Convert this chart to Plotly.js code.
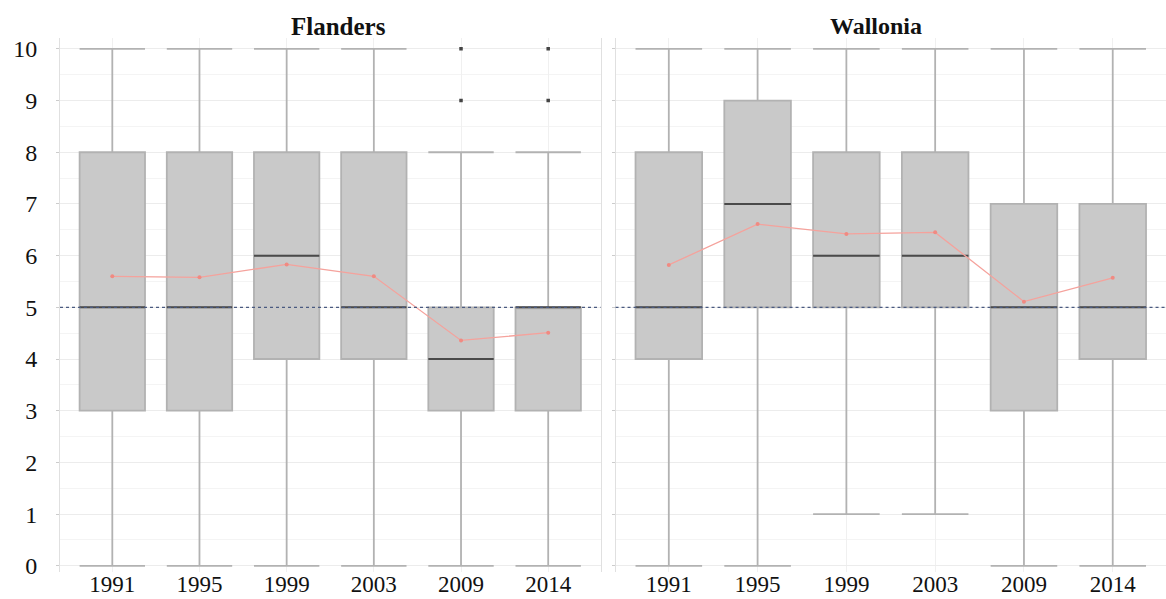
<!DOCTYPE html>
<html>
<head>
<meta charset="utf-8">
<script src="https://cdn.plot.ly/plotly-3.0.1.min.js"></script>
<style>html,body{margin:0;padding:0;background:#fff;}#chart{width:1166px;height:599px;}</style>
</head>
<body>
<div id="chart"></div>
<script>
const years = ['1991', '1995', '1999', '2003', '2009', '2014'];
const regions = ['Flanders', 'Wallonia'];

// Flanders
const flMin    = [0, 0, 0, 0, 0, 0];
const flQ1     = [3, 3, 4, 4, 3, 3];
const flMedian = [5, 5, 6, 5, 4, 5];
const flQ3     = [8, 8, 8, 8, 5, 5];
const flMax    = [10, 10, 10, 10, 8, 8];
const flMean   = [5.6, 5.58, 5.83, 5.6, 4.36, 4.51];
const flOutlierYears = ['2009', '2009', '2014', '2014'];
const flOutlierVals  = [9, 10, 9, 10];

// Wallonia
const waMin    = [0, 0, 1, 1, 0, 0];
const waQ1     = [4, 5, 5, 5, 3, 4];
const waMedian = [5, 7, 6, 6, 5, 5];
const waQ3     = [8, 9, 8, 8, 7, 7];
const waMax    = [10, 10, 10, 10, 10, 10];
const waMean   = [5.82, 6.61, 6.42, 6.45, 5.11, 5.57];

const refLine = 5;

const FONT = 'Liberation Serif, Times New Roman, serif';

function panel(xa, ya, mins, q1, med, q3, maxs, means) {
  return [
    {
      type: 'box', x: years, q1: q1, median: med, q3: q3,
      lowerfence: mins, upperfence: maxs,
      xaxis: xa, yaxis: ya,
      fillcolor: '#c9c9c9',
      line: {color: '#b2b2b2', width: 1.8},
      whiskerwidth: 1, width: 0.75,
      boxpoints: false, showlegend: false, hoverinfo: 'skip'
    },
    {
      type: 'box', x: years, q1: med, median: med, q3: med,
      lowerfence: med, upperfence: med,
      xaxis: xa, yaxis: ya,
      fillcolor: 'rgba(0,0,0,0)',
      line: {color: '#4a4a4a', width: 2},
      whiskerwidth: 0, width: 0.75,
      boxpoints: false, showlegend: false, hoverinfo: 'skip'
    },
    {
      type: 'scatter', mode: 'lines+markers', x: years, y: means,
      xaxis: xa, yaxis: ya,
      line: {color: '#f5a29c', width: 1.3},
      marker: {color: '#f08a82', size: 4},
      showlegend: false, hoverinfo: 'skip'
    }
  ];
}

const data = [
  ...panel('x', 'y', flMin, flQ1, flMedian, flQ3, flMax, flMean),
  {
    type: 'scatter', mode: 'markers', x: flOutlierYears, y: flOutlierVals,
    xaxis: 'x', yaxis: 'y',
    marker: {color: '#444444', size: 3.5, symbol: 'square'},
    showlegend: false, hoverinfo: 'skip'
  },
  ...panel('x2', 'y2', waMin, waQ1, waMedian, waQ3, waMax, waMean)
];

const yCommon = {
  range: [-0.12, 10.21], dtick: 1, tick0: 0,
  showgrid: true, gridcolor: '#ececec', gridwidth: 1,
  minor: {dtick: 0.5, showgrid: true, gridcolor: '#f4f4f4', gridwidth: 1},
  zeroline: false, showline: true, linecolor: '#e0e0e0', linewidth: 1,
  ticks: 'outside', ticklen: 3, tickcolor: '#cccccc',
  automargin: false
};
const xCommon = {
  type: 'category', range: [-0.6, 5.6],
  showgrid: true, gridcolor: '#f0f0f0', gridwidth: 1,
  zeroline: false, showline: false, ticks: '',
  ticklabelstandoff: -4,
  tickfont: {family: FONT, size: 23, color: '#111'},
  automargin: false
};

const layout = {
  width: 1166, height: 599,
  margin: {l: 60, r: 0, t: 38, b: 27},
  paper_bgcolor: '#ffffff', plot_bgcolor: '#ffffff',
  font: {family: FONT, size: 23, color: '#111'},
  boxmode: 'overlay',
  xaxis: Object.assign({}, xCommon, {domain: [0, 0.4887], anchor: 'y'}),
  xaxis2: Object.assign({}, xCommon, {domain: [0.5023, 1], anchor: 'y2'}),
  yaxis: Object.assign({}, yCommon, {domain: [0, 1], anchor: 'x', mirror: true,
    ticklabelstandoff: 14,
    tickfont: {family: FONT, size: 24, color: '#111'}}),
  yaxis2: Object.assign({}, yCommon, {domain: [0, 1], anchor: 'x2', showticklabels: false}),
  shapes: [
    {type: 'line', xref: 'x domain', yref: 'y', x0: 0, x1: 1, y0: refLine, y1: refLine,
     line: {color: '#4a5a80', width: 1.2, dash: 'dot'}, layer: 'above'},
    {type: 'line', xref: 'x2 domain', yref: 'y2', x0: 0, x1: 1, y0: refLine, y1: refLine,
     line: {color: '#4a5a80', width: 1.2, dash: 'dot'}, layer: 'above'}
  ],
  annotations: [
    {text: '<b>' + regions[0] + '</b>', xref: 'paper', yref: 'paper', x: 0.2516, y: 1,
     yshift: 12, xanchor: 'center', yanchor: 'middle', showarrow: false,
     font: {family: FONT, size: 25, color: '#111'}},
    {text: '<b>' + regions[1] + '</b>', xref: 'paper', yref: 'paper', x: 0.7376, y: 1,
     yshift: 12, xanchor: 'center', yanchor: 'middle', showarrow: false,
     font: {family: FONT, size: 24, color: '#111'}}
  ]
};

Plotly.newPlot('chart', data, layout, {displayModeBar: false, staticPlot: true});
</script>
</body>
</html>
